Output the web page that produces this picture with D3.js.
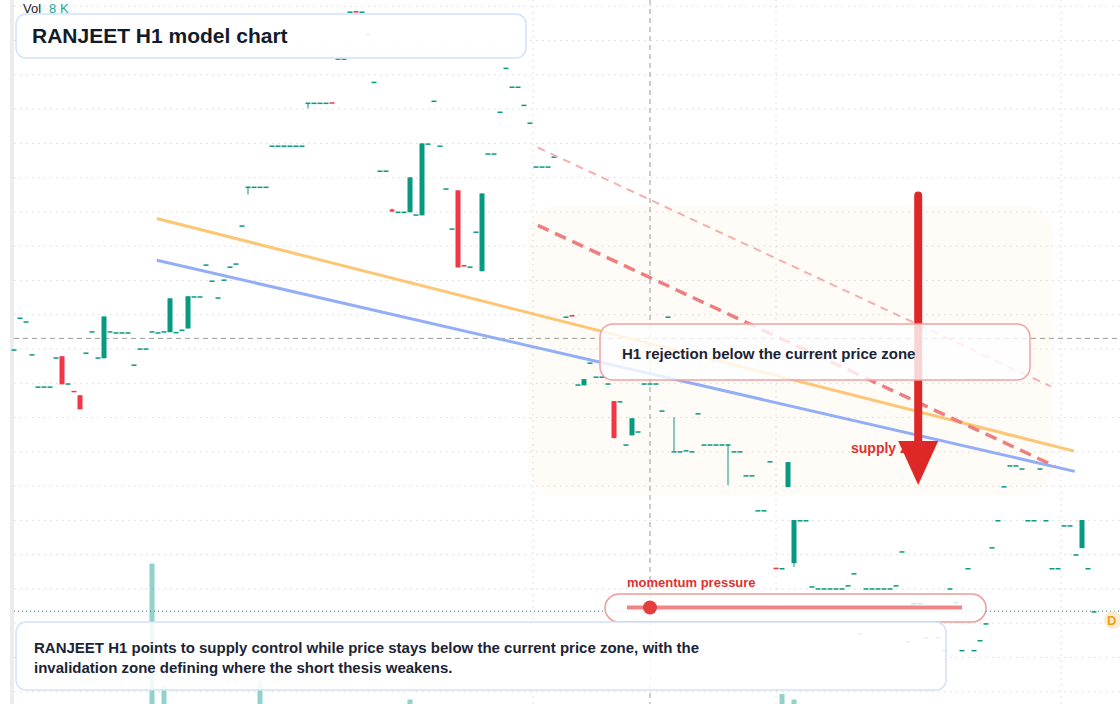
<!DOCTYPE html>
<html><head><meta charset="utf-8">
<script src="https://cdn.jsdelivr.net/npm/d3@7"></script>
<style>html,body{margin:0;padding:0;background:#fff;}svg{display:block;font-family:"Liberation Sans",Arial,sans-serif;}</style>
</head><body><svg id="c" width="1120" height="704"></svg>
<script>
// Candle data (index = bar number), null = no bar
const opens = [109.9,119.2,118.1,108.5,99.1,99.1,99.1,107.6,107.9,100.0,97.8,96.5,109.0,115.2,107.6,107.3,115.2,114.9,114.9,114.9,105.5,110.2,110.2,115.2,114.9,115.2,114.9,114.9,115.7,116.0,125.4,125.4,134.7,130.0,125.1,130.3,134.1,134.7,146.1,157.4,157.4,157.4,157.4,169.4,169.4,169.4,169.4,169.4,169.4,181.9,181.9,181.9,181.9,182.0,194.8,194.8,208.5,208.6,208.5,202.0,188.0,162.1,162.1,150.7,150.1,150.1,149.9,149.3,149.0,170.0,182.5,169.4,156.9,145.2,156.3,134.5,134.1,144.3,132.7,167.1,167.1,179.3,192.1,186.6,186.6,181.3,176.1,163.3,163.3,163.3,166.2,null,119.5,119.9,99.7,99.4,106.1,102.0,102.0,100.0,94.8,94.8,82.2,84.8,86.0,100.0,100.0,100.0,92.1,119.5,80.2,80.2,80.5,80.2,91.3,82.2,82.2,82.2,82.2,82.2,80.2,80.2,73.2,73.2,63.0,63.0,77.3,46.2,46.1,69.7,47.5,60.1,60.1,40.8,40.2,40.2,40.2,40.2,40.2,41.1,44.6,27.1,40.2,40.2,40.2,40.2,40.2,41.1,51.0,24.8,35.9,35.9,25.9,null,25.9,22.2,40.2,36.2,22.2,46.1,22.2,25.1,30.0,52.2,60.1,70.0,76.1,76.1,75.2,60.1,60.1,75.2,60.1,46.1,46.1,58.6,58.6,50.1,51.9,46.1,33.5];
const closes = [109.9,119.2,118.1,108.5,99.1,99.1,99.1,107.6,99.7,100.0,97.7,92.4,109.0,115.2,107.6,119.5,115.2,114.9,114.9,114.9,105.5,110.2,110.2,115.2,114.9,115.2,124.8,115.0,115.7,125.4,125.4,125.4,134.7,130.0,125.1,130.3,134.1,135.0,146.1,157.4,157.4,157.4,157.4,169.4,169.4,169.4,169.4,169.4,169.4,181.9,181.9,181.9,181.9,181.9,194.8,194.8,208.5,208.5,208.5,202.0,188.0,162.1,162.1,150.1,150.1,150.1,160.1,149.3,170.0,170.0,182.5,169.4,156.9,145.2,133.8,134.4,134.1,144.3,155.4,167.1,167.1,179.3,192.1,186.6,186.6,181.3,176.1,163.3,163.3,163.3,166.2,null,119.5,119.8,99.7,101.2,106.1,102.0,102.0,100.0,84.0,94.8,82.2,89.8,86.0,100.0,100.0,100.0,92.1,119.5,80.2,80.2,80.5,80.2,91.3,82.2,82.2,82.2,82.2,82.2,80.2,80.2,73.2,73.2,63.0,63.0,77.3,46.1,46.1,77.0,60.1,60.1,60.1,40.8,40.2,40.2,40.2,40.2,40.2,41.1,44.6,27.1,40.2,40.2,40.2,40.2,40.2,41.1,51.0,24.8,35.9,35.9,25.9,null,25.9,22.2,40.2,36.2,22.2,46.1,22.2,25.1,30.0,52.2,60.1,70.0,76.1,76.1,75.2,60.1,60.1,75.2,60.1,46.1,46.1,58.6,58.6,50.1,60.1,46.1,33.5];
const highs = {39:157.4, 49:181.9, 63:151.0, 110:90.1};
const lows  = {39:155.1, 49:180.2, 110:80.2, 119:70.3, 130:46.4};
const gridLevels = d3.range(10, 211, 10);
const vGridBars = [86.5, 127, 174.5];
const volIndex = [23, 25, 41, 66, 128, 130];
const volValues = [7800, 1000, 1300, 250, 550, 250];
// Annotations in bar/price space
const orangeLine = [[23.8,148.1],[176.7,80.2]];
const blueLine = [[23.8,135.9],[176.8,74.3]];
const redDash = [[87.3,146.1],[173.5,75.8]];
const pinkDash = [[87.3,168.8],[172.8,99.1]];
const arrow = {bar:150.7, from:154.8, to:70.3};
const crossBar = 106, crossPrice = 113.1, lastPrice = 33.5;

const svg = d3.select("#c");
const x = d3.scaleLinear().domain([0,180]).range([14,1094]);
const y = d3.scaleLinear().domain([0,210]).range([726,6.3]);
const vy = d3.scaleLinear().domain([0,8000]).range([704,560]);

// zone background
svg.append("rect").attr("x",528).attr("y",205).attr("width",525).attr("height",290).attr("rx",30).attr("fill","#fffbf7");
// left strip
svg.append("rect").attr("x",10).attr("y",0).attr("width",4).attr("height",704).attr("fill","#ececec");
// grid
svg.append("g").selectAll("line").data(gridLevels).join("line")
 .attr("x1",14).attr("x2",1120).attr("y1",d=>y(d)).attr("y2",d=>y(d))
 .attr("stroke","#d9d9d9").attr("stroke-dasharray","1.5,4.5");
svg.append("g").selectAll("line").data(vGridBars).join("line")
 .attr("x1",d=>x(d)).attr("x2",d=>x(d)).attr("y1",0).attr("y2",704)
 .attr("stroke","#d9d9d9").attr("stroke-dasharray","1.5,4.5");
// crosshair
svg.append("line").attr("x1",x(crossBar)).attr("x2",x(crossBar)).attr("y1",0).attr("y2",704).attr("stroke","#999").attr("stroke-dasharray","5,4");
svg.append("line").attr("x1",14).attr("x2",1120).attr("y1",y(crossPrice)).attr("y2",y(crossPrice)).attr("stroke","#999").attr("stroke-dasharray","5,4");
// volume
svg.append("g").selectAll("rect").data(volIndex).join("rect")
 .attr("x",(d)=>x(d)-2.5).attr("width",5).attr("y",(d,i)=>vy(volValues[i])).attr("height",(d,i)=>704-vy(volValues[i]))
 .attr("fill","#26a69a").attr("opacity",0.5);
// last price line
svg.append("line").attr("x1",14).attr("x2",1120).attr("y1",y(lastPrice)).attr("y2",y(lastPrice)).attr("stroke","#1f7f6f").attr("stroke-dasharray","1,3");
// candles
const bars = opens.map((o,i)=>({i,o,c:closes[i]})).filter(d=>d.o!==null);
const cg = svg.append("g");
bars.forEach(d=>{
  const col = d.c>=d.o ? "#089981" : "#f23645";
  const hi = highs[d.i]!==undefined?highs[d.i]:Math.max(d.o,d.c);
  const lo = lows[d.i]!==undefined?lows[d.i]:Math.min(d.o,d.c);
  if (hi-lo>0.5) cg.append("line").attr("x1",x(d.i)).attr("x2",x(d.i)).attr("y1",y(hi)).attr("y2",y(lo)).attr("stroke",col).attr("stroke-width",1);
  const top=y(Math.max(d.o,d.c)), bot=y(Math.min(d.o,d.c));
  cg.append("rect").attr("x",x(d.i)-2.5).attr("width",5).attr("y",top).attr("height",Math.max(1.5,bot-top)).attr("fill",col);
});
// trend lines
const L = d3.line().x(d=>x(d[0])).y(d=>y(d[1]));
svg.append("path").attr("d",L(orangeLine)).attr("stroke","#fdc675").attr("stroke-width",3).attr("fill","none");
svg.append("path").attr("d",L(blueLine)).attr("stroke","#93aef7").attr("stroke-width",3).attr("fill","none");
svg.append("path").attr("d",L(pinkDash)).attr("stroke","#f4b0b0").attr("stroke-width",2).attr("stroke-dasharray","8,6").attr("fill","none");
svg.append("path").attr("d",L(redDash)).attr("stroke","#ec7f7f").attr("stroke-width",3.5).attr("stroke-dasharray","12,7").attr("fill","none");

// supply zone label + arrow
svg.append("text").attr("x",851).attr("y",453).attr("fill","#e03131").attr("font-size",14).attr("font-weight","bold").text("supply zone");
const ax = x(arrow.bar);
svg.append("line").attr("x1",ax).attr("x2",ax).attr("y1",y(arrow.from)).attr("y2",y(arrow.to)-42).attr("stroke","#de2828").attr("stroke-width",8).attr("stroke-linecap","round");
svg.append("path").attr("d",`M${ax-20},${y(arrow.to)-44} L${ax+20},${y(arrow.to)-44} L${ax},${y(arrow.to)} Z`).attr("fill","#de2828");

// H1 rejection box
svg.append("rect").attr("x",600).attr("y",324).attr("width",430).attr("height",56).attr("rx",13).attr("fill","#fff").attr("fill-opacity",0.8).attr("stroke","#f0a3a3").attr("stroke-width",1.5);
svg.append("text").attr("x",622).attr("y",359).attr("fill","#1b2434").attr("font-size",15).attr("font-weight","bold").text("H1 rejection below the current price zone");

// momentum pressure
svg.append("text").attr("x",627).attr("y",587).attr("fill","#e03131").attr("font-size",13).attr("font-weight","bold").text("momentum pressure");
svg.append("rect").attr("x",605).attr("y",594).attr("width",381).attr("height",28).attr("rx",14).attr("fill","#fff").attr("fill-opacity",0.8).attr("stroke","#ee9a9a").attr("stroke-width",1.5);
svg.append("line").attr("x1",627).attr("x2",962).attr("y1",607.5).attr("y2",607.5).attr("stroke","#ef8585").attr("stroke-width",4);
svg.append("circle").attr("cx",x(crossBar)).attr("cy",607.5).attr("r",7).attr("fill","#e53e3e");

// bottom text box
svg.append("rect").attr("x",16).attr("y",622).attr("width",930).attr("height",68).attr("rx",10).attr("fill","#fff").attr("fill-opacity",0.88).attr("stroke","#d3e1fa").attr("stroke-width",1.5);
svg.append("text").attr("x",34).attr("y",653).attr("fill","#1b2434").attr("font-size",15).attr("font-weight","bold").text("RANJEET H1 points to supply control while price stays below the current price zone, with the");
svg.append("text").attr("x",34).attr("y",673).attr("fill","#1b2434").attr("font-size",15).attr("font-weight","bold").text("invalidation zone defining where the short thesis weakens.");

// title box
svg.append("rect").attr("x",16).attr("y",14).attr("width",510).attr("height",44).attr("rx",10).attr("fill","#fff").attr("fill-opacity",0.88).attr("stroke","#d3e1fa").attr("stroke-width",1.5);
svg.append("text").attr("x",32).attr("y",43).attr("fill","#131b2b").attr("font-size",21).attr("font-weight","bold").text("RANJEET H1 model chart");
// vol label
const vt = svg.append("text").attr("x",23).attr("y",13).attr("font-size",13);
vt.append("tspan").attr("fill","#222").text("Vol");
vt.append("tspan").attr("dx",8).attr("fill","#26a69a").text("8 K");
// D badge
svg.append("circle").attr("cx",1113).attr("cy",620).attr("r",9).attr("fill","#fdecd4");
svg.append("text").attr("x",1107).attr("y",625).attr("fill","#f59e0b").attr("font-size",13).attr("font-weight","bold").text("D");
</script></body></html>
